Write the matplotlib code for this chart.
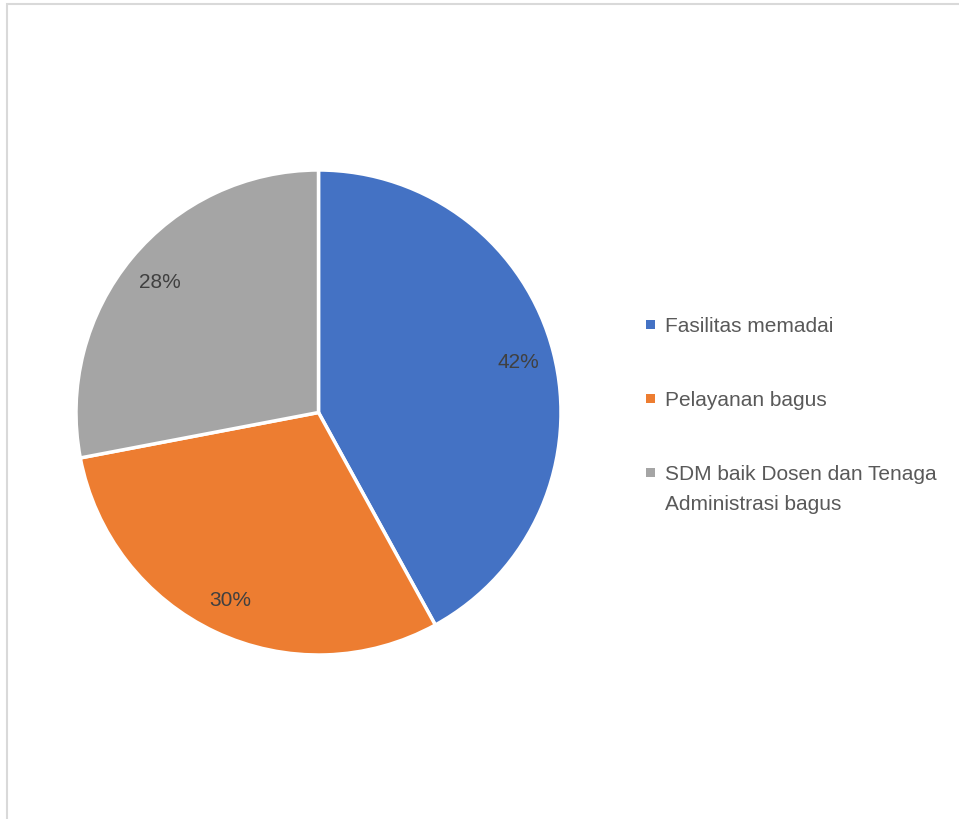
import matplotlib
matplotlib.use("Agg")
from matplotlib import pyplot as plt
from matplotlib.patches import Rectangle

labels = ["Fasilitas memadai", "Pelayanan bagus",
          "SDM baik Dosen dan Tenaga\nAdministrasi bagus"]
values = [42, 30, 28]
colors = ["#4472C4", "#ED7D31", "#A5A5A5"]

W, H = 959, 820
fig = plt.figure(figsize=(W / 100, H / 100), dpi=100)
plt.rcParams['font.family'] = ['Liberation Sans', 'DejaVu Sans']

# chart area frame (runs off the right and bottom of the image)
fig.patches.append(Rectangle((6.5 / W, -0.1), 1.2, (H - 5) / H + 0.1,
                             transform=fig.transFigure, fill=False,
                             edgecolor="#D9D9D9", linewidth=1.5))

# pie axes, center (318.5, 413.5) px, radius 242.5 px
cx, cy, r = 318.5, 413.5, 242.5
ax = fig.add_axes([(cx - r) / W, 1 - (cy + r) / H, 2 * r / W, 2 * r / H])
wedges, texts, autotexts = ax.pie(
    values, colors=colors, startangle=90, counterclock=False,
    autopct="%1.0f%%", pctdistance=0.85, radius=1,
    wedgeprops=dict(edgecolor="white", linewidth=2.5),
    textprops=dict(color="#404040", fontsize=15))
ax.set_xlim(-1, 1)
ax.set_ylim(-1, 1)
ax.set_aspect("equal")
ax.axis("off")

# legend
y0 = 325
step = 74
for i, (lab, col) in enumerate(zip(labels, colors)):
    y = y0 + i * step
    fig.patches.append(Rectangle((646 / W, 1 - (y + 4.5) / H), 9 / W, 9 / H,
                                 transform=fig.transFigure, facecolor=col,
                                 edgecolor="none"))
    fig.text(665 / W, 1 - (y - 8) / H, lab, color="#595959", fontsize=15,
             va="top", ha="left", linespacing=1.75)

fig.savefig("out.png", dpi=100)
